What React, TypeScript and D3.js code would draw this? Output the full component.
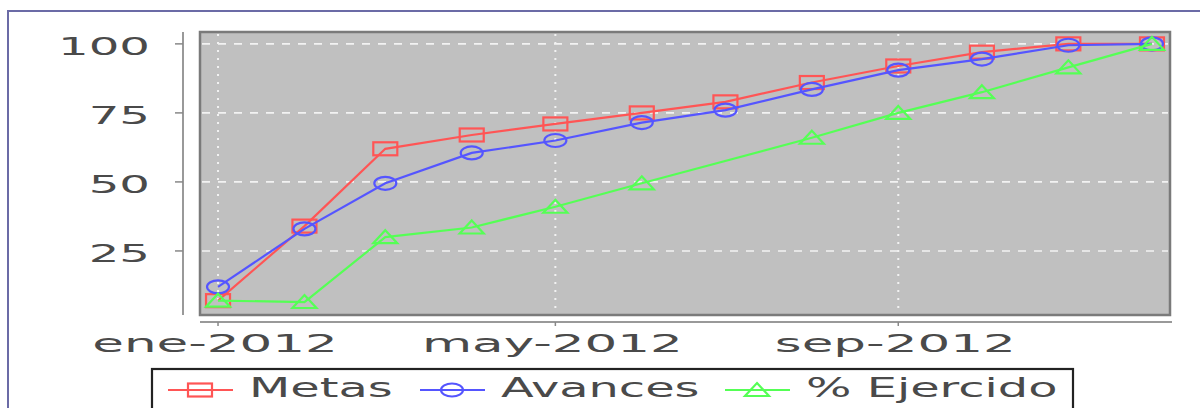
import React from 'react';
import * as d3 from 'd3';

// monthly series, 2012 (1st of each month)
const months = [0, 1, 2, 3, 4, 5, 6, 7, 8, 9, 10, 11];
const metas = [7, 34, 62, 67, 71, 75, 79, 86, 92, 97, 100, 100];
const avances = [12, 33, 49.5, 60.5, 65, 71.5, 76, 83.5, 90.5, 94.5, 99.5, 100];
// no point read for jul
const ejercidoMonths = [0, 1, 2, 3, 4, 5, 7, 8, 9, 10, 11];
const ejercido = [7, 6.5, 30, 33.5, 41, 49.5, 66, 75, 82.5, 91.5, 100];

const yTicks = [25, 50, 75, 100];
const xTickMonths = [0, 4, 8];
const xTickLabels = ['ene-2012', 'may-2012', 'sep-2012'];

const RED = '#FF5555';
const BLUE = '#5555FF';
const GREEN = '#55FF55';
const FONT = '"DejaVu Sans", Verdana, sans-serif';

const W = 1200;
const H = 408;
const plot = { left: 200, top: 32, right: 1170, bottom: 315 };

const toDate = (m: number) => new Date(2012, m, 1);

const first = toDate(months[0]).getTime();
const last = toDate(months[months.length - 1]).getTime();
const pad = (last - first) * 0.0193;

const x = d3
  .scaleTime()
  .domain([new Date(first - pad), new Date(last + pad)])
  .range([plot.left, plot.right]);

const y = d3.scaleLinear().domain([1.8, 104.3]).range([plot.bottom, plot.top]);

type Shape = 'square' | 'circle' | 'triangle';

const Marker = ({ cx, cy, shape, color }: { cx: number; cy: number; shape: Shape; color: string }) => {
  if (shape === 'square')
    return <rect x={cx - 12} y={cy - 6.5} width={24} height={13} fill="none" stroke={color} strokeWidth={2.2} />;
  if (shape === 'circle')
    return <ellipse cx={cx} cy={cy} rx={11} ry={6.5} fill="none" stroke={color} strokeWidth={2.2} />;
  return (
    <path
      d={`M${cx},${cy - 7} L${cx + 12},${cy + 6} L${cx - 12},${cy + 6} Z`}
      fill="none"
      stroke={color}
      strokeWidth={2.2}
    />
  );
};

const Series = ({ ms, vals, color, shape }: { ms: number[]; vals: number[]; color: string; shape: Shape }) => {
  const pts: [number, number][] = ms.map((m, i) => [x(toDate(m)), y(vals[i])]);
  const line = d3.line();
  return (
    <g>
      <path d={line(pts) || ''} fill="none" stroke={color} strokeWidth={2.2} />
      {pts.map((p, i) => (
        <Marker key={i} cx={p[0]} cy={p[1]} shape={shape} color={color} />
      ))}
    </g>
  );
};

const legendItems: { label: string; color: string; shape: Shape; x0: number }[] = [
  { label: 'Metas', color: RED, shape: 'square', x0: 168 },
  { label: 'Avances', color: BLUE, shape: 'circle', x0: 420 },
  { label: '% Ejercido', color: GREEN, shape: 'triangle', x0: 725 },
];

export default function App() {
  return (
    <div style={{ position: 'fixed', left: 0, top: 0 }}>
      <svg width={W} height={H} style={{ display: 'block', background: '#fff' }}>
        {/* outer chart border */}
        <rect x={8} y={11} width={W + 20} height={H + 20} fill="none" stroke="#6b6ba6" strokeWidth={2} />

        {/* plot background */}
        <rect
          x={plot.left}
          y={plot.top}
          width={plot.right - plot.left}
          height={plot.bottom - plot.top}
          fill="#c0c0c0"
          stroke="#7a7a7a"
          strokeWidth={2.5}
        />

        {/* grid */}
        {yTicks.map((t) => (
          <line
            key={t}
            x1={plot.left + 2}
            x2={plot.right - 2}
            y1={y(t)}
            y2={y(t)}
            stroke="#f2f2f2"
            strokeWidth={1.6}
            strokeDasharray="8,8"
          />
        ))}
        {xTickMonths.map((m) => (
          <line
            key={m}
            x1={x(toDate(m))}
            x2={x(toDate(m))}
            y1={plot.top + 2}
            y2={plot.bottom - 2}
            stroke="#f2f2f2"
            strokeWidth={2}
            strokeDasharray="2,6"
          />
        ))}

        {/* y axis */}
        <line x1={183} x2={183} y1={plot.top} y2={plot.bottom} stroke="#999" strokeWidth={2} />
        {yTicks.map((t) => (
          <g key={t}>
            <line x1={175} x2={183} y1={y(t)} y2={y(t)} stroke="#888" strokeWidth={1.5} />
            <text
              transform={`translate(150,${y(t) + 11}) scale(1.93,1)`}
              textAnchor="end"
              fontFamily={FONT}
              fontSize={25}
              fill="#4a4a4a"
            >
              {t}
            </text>
          </g>
        ))}

        {/* x axis */}
        <line x1={plot.left} x2={plot.right + 2} y1={322} y2={322} stroke="#999" strokeWidth={2} />
        {xTickMonths.map((m, i) => (
          <g key={m}>
            <line x1={x(toDate(m))} x2={x(toDate(m))} y1={322} y2={326} stroke="#888" strokeWidth={1.5} />
            <text
              transform={`translate(${x(toDate(m)) - 3},352) scale(2.02,1)`}
              textAnchor="middle"
              fontFamily={FONT}
              fontSize={25.5}
              fill="#4a4a4a"
            >
              {xTickLabels[i]}
            </text>
          </g>
        ))}

        {/* series */}
        <Series ms={months} vals={metas} color={RED} shape="square" />
        <Series ms={months} vals={avances} color={BLUE} shape="circle" />
        <Series ms={ejercidoMonths} vals={ejercido} color={GREEN} shape="triangle" />

        {/* legend */}
        <rect x={152} y={369} width={921} height={60} fill="#fff" stroke="#222" strokeWidth={2.2} />
        {legendItems.map((it) => (
          <g key={it.label}>
            <line x1={it.x0} x2={it.x0 + 65} y1={390} y2={390} stroke={it.color} strokeWidth={2.2} />
            <Marker cx={it.x0 + 32} cy={390} shape={it.shape} color={it.color} />
            <text
              transform={`translate(${it.x0 + 81},397) scale(1.84,1)`}
              fontFamily={FONT}
              fontSize={26}
              fill="#4a4a4a"
            >
              {it.label}
            </text>
          </g>
        ))}
      </svg>
    </div>
  );
}
